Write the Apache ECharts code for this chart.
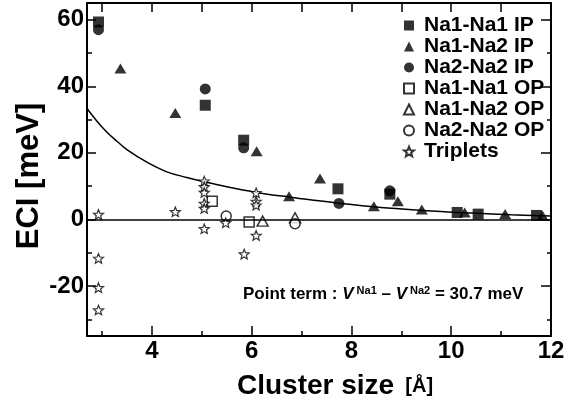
<!DOCTYPE html>
<html>
<head>
<meta charset="utf-8">
<script src="https://cdn.jsdelivr.net/npm/echarts@6/dist/echarts.min.js"></script>
<style>html,body{margin:0;padding:0;background:#fff}#c{width:575px;height:400px}</style>
</head>
<body>
<div id="c"></div>
<script>
// ---- data (Cluster size [Å], ECI [meV]) ----
const na1na1IP = [[2.93,59.3],[5.07,34.3],[5.84,23.8],[7.73,9.2],[8.77,7.6],[10.12,2.1],[10.54,1.6],[11.71,1.2]];
const na1na2IP = [[3.37,45.3],[4.47,32.0],[6.10,20.5],[6.75,7.0],[7.37,12.3],[8.45,4.0],[8.93,5.5],[9.41,3.0],[10.27,2.1],[11.08,1.6],[11.83,1.2]];
const na2na2IP = [[2.93,57.0],[5.07,39.2],[5.84,21.5],[7.75,4.8],[8.77,8.6]];
const na1na1OP = [[5.21,5.5],[5.95,-0.8]];
const na1na2OP = [[6.22,-0.5],[6.87,0.5]];
const na2na2OP = [[5.49,1.0],[6.87,-1.3]];
const triplets = [[2.93,1.5],[2.93,-11.7],[2.93,-20.5],[2.93,-27.2],[4.47,2.3],
  [5.05,11.5],[5.05,9.8],[5.05,8.1],[5.05,4.8],[5.05,3.3],[5.05,-2.8],
  [5.48,-1.0],[5.85,-10.4],[6.09,8.0],[6.09,5.4],[6.09,4.3],[6.09,-4.8]];
const fitCurve = [[2.7,33.3],[2.9,29.5],[3.1,26.2],[3.3,23.5],[3.5,21.0],[3.9,17.2],[4.3,14.3],[4.7,12.6],
  [5.05,11.3],[5.5,9.8],[6.07,8.2],[6.77,6.7],[7.3,5.7],[7.75,4.9],[8.43,3.8],[9.43,2.7],[10.43,1.9],[11.2,1.4],[12.0,1.0]];
const seriesNames = ['Na1-Na1 IP','Na1-Na2 IP','Na2-Na2 IP','Na1-Na1 OP','Na1-Na2 OP','Na2-Na2 OP','Triplets'];
const xMajor = [4,6,8,10,12];
const xMinor = [3,5,7,9,11];
const xAll = [3,4,5,6,7,8,9,10,11,12];
const yMajor = [-20,0,20,40,60];
const yMinor = [-30,-10,10,30,50];
const xRange = [2.7, 12];
const yRange = [-35, 65];

const FONT = '"Liberation Sans", Arial, Helvetica, sans-serif';
const STAR = 'path://M50,0 L62.93,32.2 L97.55,34.55 L70.92,56.8 L79.39,90.45 L50,72 L20.61,90.45 L29.08,56.8 L2.45,34.55 L37.07,32.2 Z';

function xAx(pos, ticks, len, labels, line) {
  return {
    type: 'value', position: pos, min: xRange[0], max: xRange[1],
    axisLine: {show: line, onZero: false, lineStyle: {color: '#000', width: 2}},
    axisTick: {show: true, inside: true, length: len, customValues: ticks, lineStyle: {color: '#000', width: 1.5}},
    axisLabel: labels ? {show: true, customValues: labels, margin: 3, color: '#000', fontSize: 24, fontWeight: 'bold', fontFamily: FONT} : {show: false},
    splitLine: {show: false}
  };
}
function yAx(pos, ticks, len, labels, line) {
  return {
    type: 'value', position: pos, min: yRange[0], max: yRange[1],
    axisLine: {show: line, onZero: false, lineStyle: {color: '#000', width: 2}},
    axisTick: {show: true, inside: true, length: len, customValues: ticks, lineStyle: {color: '#000', width: 1.5}},
    axisLabel: labels ? {show: true, customValues: labels, margin: 3, color: '#000', fontSize: 24, fontWeight: 'bold', fontFamily: FONT} : {show: false},
    splitLine: {show: false}
  };
}

const filled = {color: '#000'};
const open = {color: '#fff', borderColor: '#000', borderWidth: 1.5};

const chart = echarts.init(document.getElementById('c'), null, {renderer: 'canvas'});
chart.setOption({
  animation: false,
  backgroundColor: '#fff',
  grid: {left: 87, right: 24, top: 3, bottom: 64, containLabel: false},
  xAxis: [
    xAx('bottom', xMajor, 10, xMajor, true),
    xAx('bottom', xMinor, 5, null, false),
    xAx('top', xAll, 9, null, true)
  ],
  yAxis: [
    yAx('left', yMajor, 9, yMajor, true),
    yAx('left', yMinor, 5, null, false),
    yAx('right', yMajor, 10, null, true),
    yAx('right', yMinor, 4, null, false)
  ],
  legend: {
    data: seriesNames,
    orient: 'vertical', left: 398, top: 10,
    itemWidth: 10, itemHeight: 10, itemGap: 0,
    symbolKeepAspect: true,
    textStyle: {color: '#000', fontSize: 21, fontWeight: 'bold', fontFamily: FONT, lineHeight: 21, padding: [0, 0, 0, 5]}
  },
  series: [
    {type: 'line', name: 'fit', data: fitCurve, smooth: 0.4, showSymbol: false, silent: true,
     lineStyle: {color: '#000', width: 1.5}, z: 1,
     markLine: {silent: true, symbol: ['none','none'], label: {show: false},
       lineStyle: {color: '#000', width: 1.5, type: 'solid'}, data: [{yAxis: 0}]}},
    {type: 'scatter', name: seriesNames[3], data: na1na1OP, symbol: 'rect', symbolSize: 10, itemStyle: open},
    {type: 'scatter', name: seriesNames[4], data: na1na2OP, symbol: 'triangle', symbolSize: [11,10], itemStyle: open},
    {type: 'scatter', name: seriesNames[5], data: na2na2OP, symbol: 'circle', symbolSize: 10, itemStyle: open},
    {type: 'scatter', name: seriesNames[6], data: triplets, symbol: STAR, symbolSize: 10, symbolKeepAspect: true,
     itemStyle: {color: '#fff', borderColor: '#000', borderWidth: 1.2}},
    {type: 'scatter', name: seriesNames[2], data: na2na2IP, symbol: 'circle', symbolSize: 11, itemStyle: filled},
    {type: 'scatter', name: seriesNames[1], data: na1na2IP, symbol: 'triangle', symbolSize: [12,10], itemStyle: filled},
    {type: 'scatter', name: seriesNames[0], data: na1na1IP, symbol: 'rect', symbolSize: 11, itemStyle: filled}
  ],
  graphic: [
    {type: 'text', x: 237, y: 386, silent: true,
     style: {text: '{a|Cluster size}{b|  [Å]}', verticalAlign: 'middle', fill: '#000',
       rich: {a: {fontSize: 28, fontWeight: 'bold', fontFamily: FONT, fill: '#000'},
              b: {fontSize: 20, fontWeight: 'bold', fontFamily: FONT, fill: '#000'}}}},
    {type: 'text', x: 29, y: 176, rotation: Math.PI / 2, silent: true,
     style: {text: 'ECI [meV]', align: 'center', verticalAlign: 'middle', fill: '#000',
       fontSize: 31, fontWeight: 'bold', fontFamily: FONT}},
    {type: 'text', x: 243, y: 294, silent: true,
     style: {text: '{a|Point term : }{v|V}{s| Na1}{a| – }{v|V}{s| Na2}{a| = 30.7 meV}', verticalAlign: 'middle', fill: '#000',
       rich: {a: {fontSize: 17, fontWeight: 'bold', fontFamily: FONT, fill: '#000', lineHeight: 18},
              v: {fontSize: 17, fontWeight: 'bold', fontStyle: 'italic', fontFamily: FONT, fill: '#000', lineHeight: 18},
              s: {fontSize: 11, fontWeight: 'bold', fontFamily: FONT, fill: '#000', verticalAlign: 'top', lineHeight: 11}}}}
  ]
});
</script>
</body>
</html>
